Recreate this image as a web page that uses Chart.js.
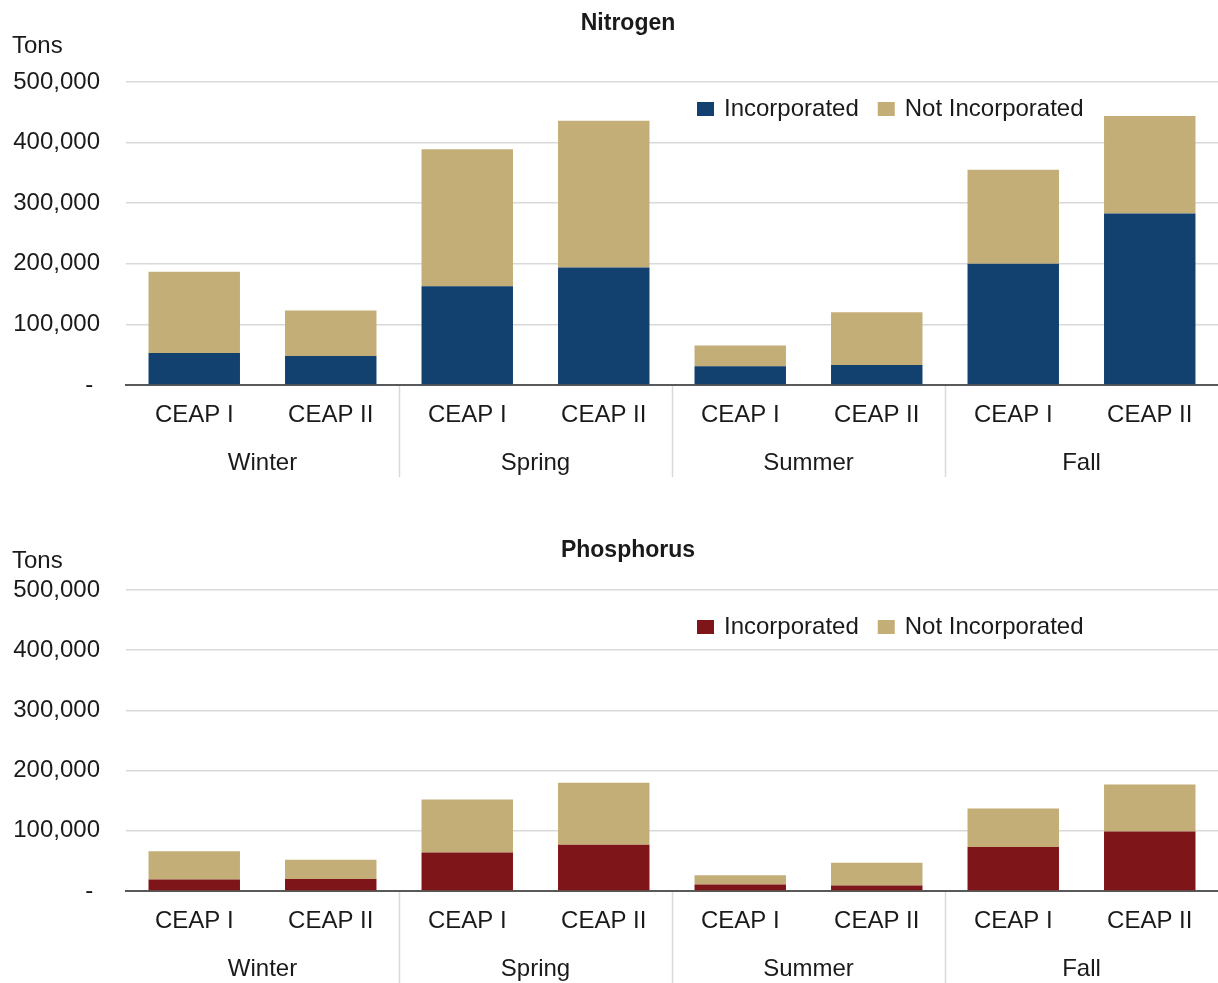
<!DOCTYPE html>
<html>
<head>
<meta charset="utf-8">
<script src="https://cdn.jsdelivr.net/npm/chart.js@4.4.1/dist/chart.umd.min.js"></script>
<style>
  html, body { margin: 0; padding: 0; background: #fff; overflow: hidden; }
  .panel { position: absolute; left: 0; width: 1218px; }
  #topPanel { top: 0; height: 490px; }
  #bottomPanel { top: 508px; height: 475px; }
</style>
</head>
<body>
<div class="panel" id="topPanel"><canvas id="nitrogenChart"></canvas></div>
<div class="panel" id="bottomPanel"><canvas id="phosphorusChart"></canvas></div>
<script>
const ceapLabels = ['CEAP I', 'CEAP II', 'CEAP I', 'CEAP II', 'CEAP I', 'CEAP II', 'CEAP I', 'CEAP II'];
const seasons = ['Winter', 'Spring', 'Summer', 'Fall'];
const seriesNames = ['Incorporated', 'Not Incorporated'];

// tons
const nitrogenIncorporated = [53000, 48000, 163000, 194000, 31000, 33000, 200000, 283000];
const nitrogenNotIncorporated = [134000, 75000, 226000, 242000, 34000, 87000, 155000, 161000];
const phosphorusIncorporated = [19000, 20000, 64000, 77000, 11000, 9000, 73000, 99000];
const phosphorusNotIncorporated = [47000, 32000, 88000, 103000, 15000, 38000, 64000, 78000];

const yTicks = [0, 100000, 200000, 300000, 400000, 500000];

const FONT = '"Liberation Sans", Arial, sans-serif';
const TEXT = '#1a1a1a';

// title, "Tons" label, legend and season separators
const decorPlugin = {
    id: 'decor',
    afterDraw(chart, args, opts) {
        const ctx = chart.ctx;
        const x = chart.scales.x;
        const x2 = chart.scales.x2;
        const area = chart.chartArea;
        ctx.save();

        ctx.strokeStyle = '#d9d9d9';
        ctx.lineWidth = 1.5;
        for (let i = 2; i < ceapLabels.length; i += 2) {
            const px = Math.round((x.getPixelForValue(i - 1) + x.getPixelForValue(i)) / 2) + 0.5;
            ctx.beginPath();
            ctx.moveTo(px, area.bottom + 1);
            ctx.lineTo(px, x2.bottom);
            ctx.stroke();
        }

        ctx.fillStyle = TEXT;
        ctx.textBaseline = 'middle';
        ctx.textAlign = 'center';
        ctx.font = 'bold 23px ' + FONT;
        ctx.fillText(opts.title, opts.titleX, opts.titleY);

        ctx.font = '24px ' + FONT;
        ctx.textAlign = 'left';
        ctx.fillText('Tons', 12, opts.tonsY);

        let lx = opts.legendX;
        chart.data.datasets.forEach(ds => {
            ctx.fillStyle = ds.backgroundColor;
            ctx.fillRect(lx, opts.legendY - 7, 17, 14);
            lx += 27;
            ctx.fillStyle = TEXT;
            ctx.fillText(ds.label, lx, opts.legendY);
            lx += ctx.measureText(ds.label).width + 19;
        });
        ctx.restore();
    }
};

function makeChart(id, incorporated, notIncorporated, incColor, layoutPad, decor) {
    const ctx = document.getElementById(id).getContext('2d');
    return new Chart(ctx, {
        type: 'bar',
        data: {
            labels: ceapLabels,
            datasets: [{
                label: seriesNames[0],
                data: incorporated,
                backgroundColor: incColor
            }, {
                label: seriesNames[1],
                data: notIncorporated,
                backgroundColor: '#c4ae78'
            }]
        },
        options: {
            responsive: true,
            maintainAspectRatio: false,
            animation: false,
            categoryPercentage: 1,
            barPercentage: 0.67,
            layout: { padding: layoutPad },
            scales: {
                x: {
                    stacked: true,
                    offset: true,
                    weight: 0,
                    grid: { display: false, drawTicks: false },
                    border: { display: true, color: '#595959', width: 2 },
                    ticks: { color: TEXT, font: { family: FONT, size: 24 }, padding: 16, maxRotation: 0, autoSkip: false },
                    afterFit(scale) { scale.height = 42; }
                },
                x2: {
                    type: 'category',
                    labels: seasons,
                    position: 'bottom',
                    offset: true,
                    weight: 1,
                    grid: { display: false, drawTicks: false },
                    border: { display: false },
                    ticks: { color: TEXT, font: { family: FONT, size: 24 }, padding: 22, maxRotation: 0 },
                    afterFit(scale) { scale.height = 50; }
                },
                y: {
                    stacked: true,
                    min: 0,
                    max: 500000,
                    afterBuildTicks(scale) { scale.ticks = yTicks.map(v => ({ value: v })); },
                    grid: { color: '#d9d9d9', lineWidth: 1.5, drawTicks: false },
                    border: { display: false },
                    ticks: {
                        color: TEXT,
                        font: { family: FONT, size: 24 },
                        padding: 26,
                        callback: v => v === 0 ? '- ' : v.toLocaleString('en-US')
                    },
                    afterFit(scale) { scale.width = 114; }
                }
            },
            plugins: {
                legend: { display: false },
                title: { display: false },
                tooltip: { enabled: false },
                decor: decor
            }
        },
        plugins: [decorPlugin]
    });
}

makeChart('nitrogenChart', nitrogenIncorporated, nitrogenNotIncorporated, '#13416f',
    { top: 82, bottom: 13, left: 12, right: 0 },
    { title: 'Nitrogen', titleX: 628, titleY: 24, tonsY: 46, legendX: 697, legendY: 109 });

makeChart('phosphorusChart', phosphorusIncorporated, phosphorusNotIncorporated, '#7e1518',
    { top: 82, bottom: 0, left: 12, right: 0 },
    { title: 'Phosphorus', titleX: 628, titleY: 43, tonsY: 53, legendX: 697, legendY: 119 });
</script>
</body>
</html>
